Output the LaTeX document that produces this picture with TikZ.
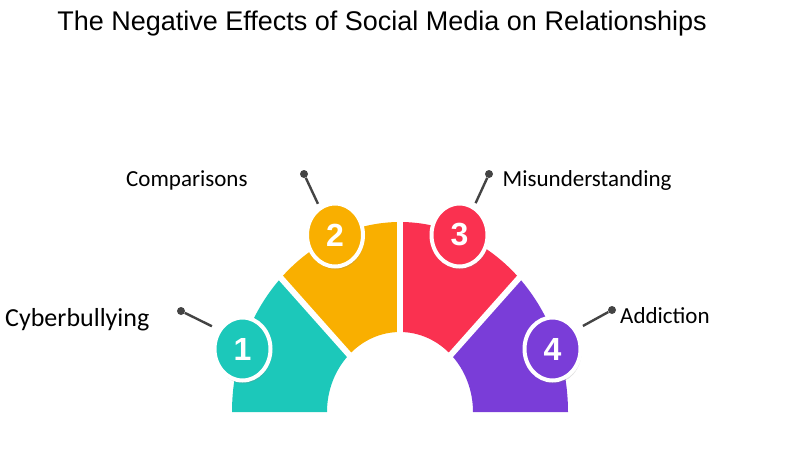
\documentclass[tikz,border=0pt]{standalone}
\usepackage{fontspec}
\setmainfont{Liberation Sans}
\newfontfamily\lblfont{Carlito}
\usetikzlibrary{shapes.geometric,shadows}
\definecolor{segteal}{HTML}{1CC8BA}
\definecolor{segyellow}{HTML}{F9AF00}
\definecolor{segred}{HTML}{FA3150}
\definecolor{segpurple}{HTML}{7A3DD8}
\definecolor{pingray}{HTML}{444444}
\begin{document}
\begin{tikzpicture}[x=1pt,y=1pt,
	numdisc/.style={ellipse,draw=white,line width=4pt,minimum width=56pt,minimum height=63pt,inner sep=0pt,
		text=white,font=\fontsize{32}{32}\selectfont\bfseries,
		drop shadow={opacity=.25,shadow xshift=1pt,shadow yshift=-3pt}},
	pinline/.style={draw=pingray,line width=2.4pt},
	pinhead/.style={circle,fill=pingray,minimum size=8pt,inner sep=0pt},
	lbl/.style={font=\lblfont\fontsize{23}{23}\selectfont,inner sep=0pt,anchor=base west}]
	\useasboundingbox (0,0) rectangle (790,-450);
	\node[font=\fontsize{27}{27}\selectfont,anchor=base] (title) at (382,-30) {The Negative Effects of Social Media on Relationships};
	\coordinate (o) at (400,-412);
	\foreach \a/\b/\c in {135/180/segteal,90/135/segyellow,45/90/segred,0/45/segpurple}
		\fill[\c] ([shift={(\a:168 and 190)}]o) arc[start angle=\a,end angle=\b,x radius=168,y radius=190]
			-- ([shift={(\b:73 and 80)}]o) arc[start angle=\b,end angle=\a,x radius=73,y radius=80] -- cycle;
	\foreach \a in {45,90,135} \draw[white,line width=6pt] (o) -- ([shift={(\a:200 and 225)}]o);
	\node[numdisc,fill=segteal] (n1) at (242.5,-349) {1};
	\node[numdisc,fill=segyellow] (n2) at (335,-235) {2};
	\node[numdisc,fill=segred] (n3) at (459.5,-235) {3};
	\node[numdisc,fill=segpurple] (n4) at (552.5,-349) {4};
	\node[pinhead] (d1) at (181,-311) {};
	\node[pinhead] (d2) at (304,-174) {};
	\node[pinhead] (d3) at (489,-174) {};
	\node[pinhead] (d4) at (612,-310) {};
	\foreach \i/\a/\s in {1/141/7,2/119/3,3/63/3,4/39/7} \draw[pinline,shorten >=\s pt] (d\i) -- (n\i.\a);
	\node[lbl,font=\lblfont\fontsize{26}{26}\selectfont] (t1) at (5,-326) {Cyberbullying};
	\node[lbl] (t2) at (126,-186.5) {Comparisons};
	\node[lbl] (t3) at (502.5,-186.5) {Misunderstanding};
	\node[lbl] (t4) at (620,-323.5) {Addiction};
\end{tikzpicture}
\end{document}
